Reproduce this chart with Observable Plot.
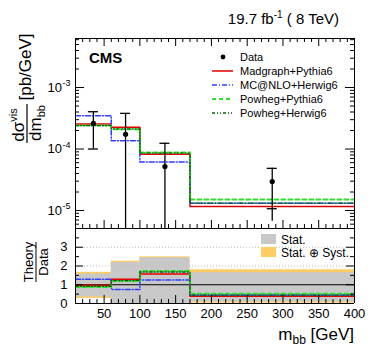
<!DOCTYPE html>
<html><head><meta charset="utf-8">
<script src="https://cdn.jsdelivr.net/npm/d3@7"></script>
<script src="https://cdn.jsdelivr.net/npm/@observablehq/plot@0.6"></script>
<style>
body{margin:0;background:#fff}
#wrap{position:relative;width:373px;height:358px;font-family:"Liberation Sans",Arial,sans-serif;}
#wrap svg{position:absolute;left:0;overflow:visible}
</style></head><body><div id="wrap"></div>
<script>
// ---- data ----
const binEdges = [10, 60, 100, 170, 400];
const binCenters = [35, 80, 135, 285];
const dataValues = [2.62e-4, 1.74e-4, 5.2e-5, 2.96e-5];
const dataCapHi = [4.04e-4, 3.8e-4, 1.24e-4, 4.85e-5];
const dataCapLo = [1.0e-4, null, null, 1.07e-5];
const dataBarLo = [1.0e-4, 1e-7, 1e-7, 6.7e-6];
const madgraph = [2.55e-4, 2.25e-4, 8.2e-5, 1.16e-5];
const mcatnlo = [3.48e-4, 1.36e-4, 6.15e-5, 1.31e-5];
const powhegPythia = [2.43e-4, 2.09e-4, 8.8e-5, 1.51e-5];
const powhegHerwig = [2.4e-4, 2.13e-4, 8.6e-5, 1.32e-5];
const ratioMadgraph = [0.97, 1.3, 1.57, 0.39];
const ratioMcatnlo = [1.3, 0.75, 1.25, 0.46];
const ratioPowhegPythia = [0.87, 1.19, 1.74, 0.53];
const ratioPowhegHerwig = [0.92, 1.22, 1.68, 0.45];
const statLo = [0.35, 0, 0, 0.08];
const statHi = [1.57, 2.19, 2.44, 1.64];
const totLo = [0.27, 0, 0, 0.02];
const totHi = [1.66, 2.26, 2.49, 1.8];
const seriesNames = ["Madgraph+Pythia6", "MC@NLO+Herwig6", "Powheg+Pythia6", "Powheg+Herwig6"];
const xTickLabels = [50, 100, 150, 200, 250, 300, 350, 400];
const ratioTickLabels = [0, 1, 2, 3];
const logTickLabels = [1e-5, 1e-4, 1e-3];

// ---- styles ----
const FONT = '"Liberation Sans", Arial, sans-serif';
const styles = [
  {stroke: "#e00000", dash: undefined, width: 1.5},
  {stroke: "#2f3dff", dash: "5,2,1,2", width: 1.5},
  {stroke: "#2ee02e", dash: "4,3", width: 1.8},
  {stroke: "#006400", dash: "3,2,1,2,1,2", width: 1.3}
];
const topVals = [madgraph, mcatnlo, powhegPythia, powhegHerwig];
const ratioVals = [ratioMadgraph, ratioMcatnlo, ratioPowhegPythia, ratioPowhegHerwig];
const steps = v => binEdges.map((e, i) => ({x: e, y: v[Math.min(i, v.length - 1)]}));

const W = 373, ML = 75, MR = 19;
const FW = W - ML - MR;
const topH = 229, topMT = 38, topMB = 1;
const FH = topH - topMT - topMB;
const rH = 130, rMT = 0, rMB = 55;
const RH = rH - rMT - rMB;

const xMajor = d3.range(50, 400, 50);
const xMinor = d3.range(20, 400, 10).filter(v => v % 50 !== 0);
const yMajor = [1e-5, 1e-4, 1e-3];
const yMinor = [];
for (let e = -6; e <= -3; e++) for (let m = 2; m <= 9; m++) {
  const v = m * Math.pow(10, e);
  if (v > 5.1e-6 && v < 6.27e-3) yMinor.push(v);
}

const points = binCenters.map((x, i) => ({x, y: dataValues[i], lo: dataBarLo[i], hi: dataCapHi[i]}));
const caps = [];
binCenters.forEach((x, i) => {
  caps.push({x, y: dataCapHi[i]});
  if (dataCapLo[i] != null) caps.push({x, y: dataCapLo[i]});
});

const tickStyle = {stroke: "black", strokeWidth: 1};
const topChart = Plot.plot({
  width: W, height: topH, marginLeft: ML, marginRight: MR, marginTop: topMT, marginBottom: topMB,
  x: {domain: [10, 400], axis: null},
  y: {type: "log", domain: [5.1e-6, 6.27e-3], axis: null},
  style: {fontFamily: FONT, background: "transparent"},
  marks: [
    ...styles.map((s, k) => Plot.line(steps(topVals[k]), {x: "x", y: "y", curve: "step-after", stroke: s.stroke, strokeWidth: s.width, strokeDasharray: s.dash, clip: true})),
    Plot.ruleX(points, {x: "x", y1: "lo", y2: "hi", stroke: "black", strokeWidth: 1.3, clip: true}),
    Plot.ruleY(caps, {x1: d => d.x - 7, x2: d => d.x + 7, y: "y", stroke: "black", strokeWidth: 1.3}),
    Plot.dot(points, {x: "x", y: "y", r: 2.6, fill: "black"}),
    Plot.tickX(xMinor, {x: d => d, insetTop: FH - 4, ...tickStyle}),
    Plot.tickX(xMajor, {x: d => d, insetTop: FH - 8, ...tickStyle}),
    Plot.tickX(xMinor, {x: d => d, insetBottom: FH - 4, ...tickStyle}),
    Plot.tickX(xMajor, {x: d => d, insetBottom: FH - 8, ...tickStyle}),
    Plot.tickY(yMinor, {y: d => d, insetRight: FW - 4, ...tickStyle}),
    Plot.tickY(yMajor, {y: d => d, insetRight: FW - 9, ...tickStyle}),
    Plot.tickY(yMinor, {y: d => d, insetLeft: FW - 4, ...tickStyle}),
    Plot.tickY(yMajor, {y: d => d, insetLeft: FW - 9, ...tickStyle}),
    Plot.frame({stroke: "black", strokeWidth: 1})
  ]
});

const rBins = binCenters.map((c, i) => ({x1: binEdges[i], x2: binEdges[i + 1], sl: statLo[i], sh: statHi[i], tl: totLo[i], th: totHi[i]}));
const ratioChart = Plot.plot({
  width: W, height: rH, marginLeft: ML, marginRight: MR, marginTop: rMT, marginBottom: rMB,
  x: {domain: [10, 400]},
  y: {domain: [0, 4]},
  style: {fontFamily: FONT, fontSize: "13px", background: "transparent", color: "black"},
  marks: [
    Plot.rect(rBins, {x1: "x1", x2: "x2", y1: "tl", y2: "th", fill: "#ffcc66"}),
    Plot.rect(rBins, {x1: "x1", x2: "x2", y1: "sl", y2: "sh", fill: "#c8c8c8"}),
    Plot.ruleY([2, 3], {stroke: "#bbbbbb", strokeDasharray: "1,2"}),
    Plot.ruleY([1], {stroke: "black", strokeWidth: 1}),
    ...styles.map((s, k) => Plot.line(steps(ratioVals[k]), {x: "x", y: "y", curve: "step-after", stroke: s.stroke, strokeWidth: s.width, strokeDasharray: s.dash, clip: true})),
    Plot.tickX(xMinor, {x: d => d, insetTop: RH - 4, ...tickStyle}),
    Plot.tickX(xMajor, {x: d => d, insetTop: RH - 8, ...tickStyle}),
    Plot.tickY([0.5, 1.5, 2.5, 3.5], {y: d => d, insetRight: FW - 4, ...tickStyle}),
    Plot.tickY([1, 2, 3], {y: d => d, insetRight: FW - 8, ...tickStyle}),
    Plot.tickY([0.5, 1.5, 2.5, 3.5], {y: d => d, insetLeft: FW - 4, ...tickStyle}),
    Plot.tickY([1, 2, 3], {y: d => d, insetLeft: FW - 8, ...tickStyle}),
    Plot.ruleX([10, 400], {stroke: "black"}),
    Plot.ruleY([0], {stroke: "black"}),
    Plot.axisX(xTickLabels, {tickSize: 0, tickPadding: 5, fontSize: 13, label: null}),
    Plot.axisY(ratioTickLabels, {tickSize: 0, tickPadding: 8, fontSize: 13, label: null})
  ]
});

const wrap = document.getElementById("wrap");
topChart.style.top = "0px";
ratioChart.style.top = "228px";
wrap.appendChild(topChart);
wrap.appendChild(ratioChart);

// ---- annotations ----
const ts = d3.select(topChart);
const yS = topChart.scale("y");
logTickLabels.forEach(v => {
  const y = yS.apply(v);
  ts.append("text").attr("x", 62).attr("y", y + 4.5).attr("text-anchor", "end")
    .attr("font-family", FONT).attr("font-size", 13).text("10");
  ts.append("text").attr("x", 62.5).attr("y", y - 1).attr("text-anchor", "start")
    .attr("font-family", FONT).attr("font-size", 9)
    .text("-" + Math.round(-Math.log10(v)));
});
// title
const title = ts.append("text").attr("x", 339).attr("y", 24).attr("text-anchor", "end")
  .attr("font-family", FONT).attr("font-size", 15);
title.append("tspan").text("19.7 fb");
title.append("tspan").attr("dy", -6).attr("font-size", 10).text("-1");
title.append("tspan").attr("dy", 6).text(" ( 8 TeV)");
// CMS
ts.append("text").attr("x", 89).attr("y", 63).attr("text-anchor", "start").attr("font-family", FONT).attr("font-size", 15)
  .attr("font-weight", "bold").text("CMS");
// y title
const yt = ts.append("g").attr("font-family", FONT).attr("font-size", 17);
yt.append("text").attr("transform", "translate(31,67) rotate(-90)").attr("text-anchor", "middle").text("[pb/GeV]");
const num = yt.append("text").attr("transform", "translate(24,125) rotate(-90)").attr("text-anchor", "middle");
num.append("tspan").text("dσ");
num.append("tspan").attr("dy", -7).attr("font-size", 11).text("vis");
yt.append("line").attr("x1", 27).attr("x2", 27).attr("y1", 104).attr("y2", 143).attr("stroke", "black").attr("stroke-width", 1.2);
const den = yt.append("text").attr("transform", "translate(41,123) rotate(-90)").attr("text-anchor", "middle");
den.append("tspan").text("dm");
den.append("tspan").attr("dy", 4).attr("font-size", 11).text("bb");
// legend (top)
const lg = ts.append("g").attr("font-family", FONT).attr("font-size", 11).attr("text-anchor", "start");
const rowY = [57, 71, 85, 99, 113];
lg.append("circle").attr("cx", 223).attr("cy", rowY[0]).attr("r", 2.4).attr("fill", "black");
lg.append("text").attr("x", 240).attr("y", rowY[0] + 4).text("Data");
seriesNames.forEach((n, k) => {
  const s = styles[k];
  lg.append("line").attr("x1", 212).attr("x2", 233).attr("y1", rowY[k + 1]).attr("y2", rowY[k + 1])
    .attr("stroke", s.stroke).attr("stroke-width", s.width).attr("stroke-dasharray", s.dash || null);
  lg.append("text").attr("x", 240).attr("y", rowY[k + 1] + 4).text(n);
});

// ratio annotations
const rs = d3.select(ratioChart);
const rl = rs.append("g").attr("font-family", FONT).attr("font-size", 12).attr("text-anchor", "start");
rl.append("rect").attr("x", 261).attr("y", 6).attr("width", 15).attr("height", 10).attr("fill", "#c8c8c8");
rl.append("text").attr("x", 281).attr("y", 15.5).text("Stat.");
rl.append("rect").attr("x", 261).attr("y", 19).attr("width", 15).attr("height", 10).attr("fill", "#ffcc66");
rl.append("text").attr("x", 281).attr("y", 28.5).text("Stat. ⊕ Syst.");
// ratio y title
const ry = rs.append("g").attr("font-family", FONT).attr("font-size", 13);
ry.append("text").attr("transform", "translate(33,34) rotate(-90)").attr("text-anchor", "middle").text("Theory");
ry.append("line").attr("x1", 36).attr("x2", 36).attr("y1", 14).attr("y2", 54).attr("stroke", "black").attr("stroke-width", 1);
ry.append("text").attr("transform", "translate(48,34) rotate(-90)").attr("text-anchor", "middle").text("Data");
// x title
const xt = rs.append("text").attr("x", 354).attr("y", 112).attr("text-anchor", "end")
  .attr("font-family", FONT).attr("font-size", 17);
xt.append("tspan").text("m");
xt.append("tspan").attr("dy", 4).attr("font-size", 12).text("bb");
xt.append("tspan").attr("dy", -4).text(" [GeV]");
</script>
</body></html>
